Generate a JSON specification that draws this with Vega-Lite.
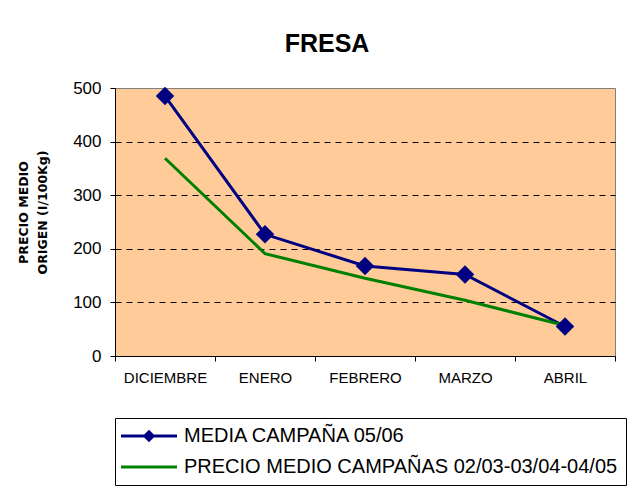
{
  "$schema": "https://vega.github.io/schema/vega-lite/v6.json",
  "width": 500,
  "height": 268,
  "autosize": {"type": "none"},
  "padding": {"left": 115, "top": 88, "right": 19, "bottom": 141},
  "background": "white",
  "title": {
    "text": "FRESA",
    "fontSize": 25,
    "font": "Liberation Sans",
    "fontWeight": "bold",
    "color": "black",
    "offset": 22,
    "dx": -38
  },
  "data": {
    "values": [
      {"serie": "MEDIA CAMPAÑA 05/06", "mes": "DICIEMBRE", "precio": 485},
      {"serie": "MEDIA CAMPAÑA 05/06", "mes": "ENERO", "precio": 227},
      {"serie": "MEDIA CAMPAÑA 05/06", "mes": "FEBRERO", "precio": 168},
      {"serie": "MEDIA CAMPAÑA 05/06", "mes": "MARZO", "precio": 152},
      {"serie": "MEDIA CAMPAÑA 05/06", "mes": "ABRIL", "precio": 55},
      {"serie": "PRECIO MEDIO CAMPAÑAS 02/03-03/04-04/05", "mes": "DICIEMBRE", "precio": 369},
      {"serie": "PRECIO MEDIO CAMPAÑAS 02/03-03/04-04/05", "mes": "ENERO", "precio": 191},
      {"serie": "PRECIO MEDIO CAMPAÑAS 02/03-03/04-04/05", "mes": "FEBRERO", "precio": 145},
      {"serie": "PRECIO MEDIO CAMPAÑAS 02/03-03/04-04/05", "mes": "MARZO", "precio": 104},
      {"serie": "PRECIO MEDIO CAMPAÑAS 02/03-03/04-04/05", "mes": "ABRIL", "precio": 57}
    ]
  },
  "encoding": {
    "x": {
      "field": "mes",
      "type": "nominal",
      "sort": ["DICIEMBRE", "ENERO", "FEBRERO", "MARZO", "ABRIL"],
      "scale": {"type": "band", "paddingInner": 0, "paddingOuter": 0},
      "axis": {
        "title": null,
        "labelAngle": 0,
        "labelFontSize": 15,
        "labelPadding": 9,
        "tickBand": "extent",
        "tickSize": 5,
        "grid": false
      }
    },
    "y": {
      "field": "precio",
      "type": "quantitative",
      "scale": {"domain": [0, 500], "nice": false},
      "axis": {
        "values": [0, 100, 200, 300, 400, 500],
        "labelFontSize": 17,
        "labelPadding": 9,
        "tickSize": 5,
        "grid": true,
        "gridColor": "black",
        "gridDash": [6, 5],
        "gridOpacity": {"condition": {"test": "datum.value == 0 || datum.value == 500", "value": 0}, "value": 1},
        "title": ["PRECIO MEDIO", "ORIGEN (I/100Kg)"],
        "titleFont": "DejaVu Sans",
        "titleFontSize": 12.5,
        "titleFontWeight": "bold",
        "titleColor": "black",
        "titleAngle": -90,
        "titleAlign": "center",
        "titleBaseline": "middle",
        "titleLineHeight": 19,
        "titleX": -92,
        "titleY": 124
      }
    }
  },
  "layer": [
    {
      "mark": {"type": "line", "strokeWidth": 3},
      "encoding": {
        "color": {
          "field": "serie",
          "type": "nominal",
          "scale": {
            "domain": ["MEDIA CAMPAÑA 05/06", "PRECIO MEDIO CAMPAÑAS 02/03-03/04-04/05"],
            "range": ["#000080", "#008000"]
          },
          "legend": {
            "title": null,
            "orient": "none",
            "legendX": 0,
            "legendY": 330,
            "padding": 8,
            "strokeColor": "black",
            "fillColor": "white",
            "labelFont": "Liberation Sans",
            "labelFontSize": 20,
            "labelColor": "black",
            "labelLimit": 600,
            "labelOffset": 25,
            "symbolOffset": 16,
            "rowPadding": 10,
            "symbolSize": 196,
            "symbolStrokeWidth": 3,
            "encode": {
              "symbols": {
                "update": {
                  "shape": {"signal": "datum.value == 'MEDIA CAMPAÑA 05/06' ? 'M-4,0L4,0M0,-0.6L0.6,0L0,0.6L-0.6,0Z' : 'M-4,0L4,0'"},
                  "fill": {"signal": "datum.value == 'MEDIA CAMPAÑA 05/06' ? '#000080' : 'transparent'"}
                }
              }
            }
          }
        }
      }
    },
    {
      "transform": [{"filter": "datum.serie == 'MEDIA CAMPAÑA 05/06'"}],
      "mark": {"type": "point", "shape": "diamond", "filled": true, "size": 340, "color": "#000080", "opacity": 1}
    }
  ],
  "config": {
    "view": {"fill": "#FFCC99", "stroke": "#808080", "strokeWidth": 1},
    "axis": {
      "domainColor": "black",
      "tickColor": "black",
      "labelColor": "black",
      "labelFont": "Liberation Sans",
      "domainWidth": 1
    }
  }
}
